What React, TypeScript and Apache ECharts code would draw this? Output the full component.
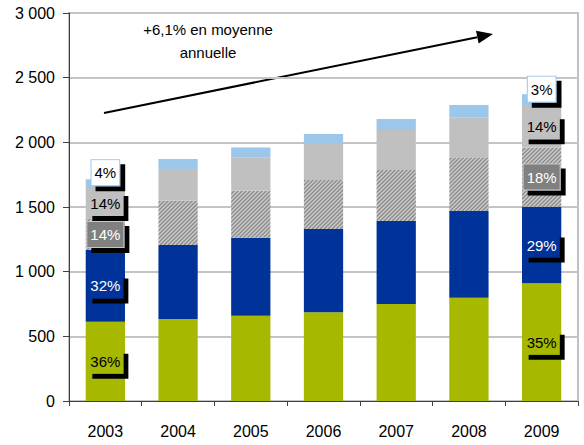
import React, { useEffect, useRef } from "react";
import * as echarts from "echarts";

const years = ["2003", "2004", "2005", "2006", "2007", "2008", "2009"];
const greenValues = [613, 634, 660, 686, 750, 799, 910];
const blueValues = [554, 572, 603, 644, 642, 670, 592];
const hatchValues = [240, 343, 363, 379, 394, 415, 459];
const lightGrayValues = [240, 245, 258, 278, 309, 310, 320];
const lightBlueValues = [67, 77, 77, 77, 85, 95, 90];

const greenPct = ["36%", "", "", "", "", "", "35%"];
const bluePct = ["32%", "", "", "", "", "", "29%"];
const hatchPct = ["14%", "", "", "", "", "", "18%"];
const lightGrayPct = ["14%", "", "", "", "", "", "14%"];
const lightBluePct = ["4%", "", "", "", "", "", "3%"];

const yTicks = { min: 0, max: 3000, interval: 500 };
const annotationLines = ["+6,1% en moyenne", "annuelle"];

const FONT = "Arial";

function makeHatch(): HTMLCanvasElement {
  const c = document.createElement("canvas");
  c.width = 4;
  c.height = 4;
  const ctx = c.getContext("2d")!;
  const tones = ["#8a8a8a", "#a6a6a6", "#cbcbcb", "#b4b4b4"];
  for (let x = 0; x < 4; x++) {
    for (let y = 0; y < 4; y++) {
      ctx.fillStyle = tones[(x + y) % 4];
      ctx.fillRect(x, y, 1, 1);
    }
  }
  return c;
}

export default function App() {
  const ref = useRef<HTMLDivElement>(null);

  useEffect(() => {
    if (!ref.current) return;
    const chart = echarts.init(ref.current, null, { renderer: "svg" });

    const labelBase = {
      position: "inside",
      fontFamily: FONT,
      fontSize: 15,
      lineHeight: 17,
      padding: [4, 3, 4, 3],
      shadowColor: "#000",
      shadowBlur: 0,
      shadowOffsetX: 5,
      shadowOffsetY: 5,
    };

    const mk = (
      name: string,
      values: number[],
      pcts: string[],
      color: any,
      label: any
    ) => ({
      name,
      type: "bar",
      stack: "total",
      barWidth: "54%",
      itemStyle: { color },
      label: { ...labelBase, ...label, formatter: (p: any) => pcts[p.dataIndex] },
      data: values.map((v, i) => ({ value: v, label: { show: pcts[i] !== "" } })),
    });

    const hatch = makeHatch();

    // arrow annotation
    const x1 = 104, y1 = 113, x2 = 493, y2 = 34;
    const ang = Math.atan2(y2 - y1, x2 - x1);
    const hl = 16, hw = 6.5;
    const bx = x2 - hl * Math.cos(ang), by = y2 - hl * Math.sin(ang);
    const px = -Math.sin(ang), py = Math.cos(ang);

    chart.setOption({
      animation: false,
      grid: {
        left: 69,
        right: 6,
        top: 13,
        bottom: 44,
        show: true,
        borderColor: "#c0c0c0",
        borderWidth: 2,
      },
      xAxis: {
        type: "category",
        data: years,
        axisLine: { lineStyle: { color: "#404040", width: 1 } },
        axisTick: { show: true, length: 5, lineStyle: { color: "#404040" } },
        axisLabel: { fontFamily: FONT, fontSize: 16, color: "#000", margin: 22 },
      },
      yAxis: {
        type: "value",
        min: yTicks.min,
        max: yTicks.max,
        interval: yTicks.interval,
        axisLine: { show: true, lineStyle: { color: "#404040", width: 1 } },
        axisTick: { show: true, length: 6, lineStyle: { color: "#404040" } },
        axisLabel: {
          fontFamily: FONT,
          fontSize: 16,
          color: "#000",
          margin: 14,
          formatter: (v: number) => String(v).replace(/\B(?=(\d{3})+(?!\d))/g, " "),
        },
        splitLine: { lineStyle: { color: "#c4c4c4", width: 2 } },
      },
      series: [
        mk("green", greenValues, greenPct, "#a6b800", {
          color: "#000",
          backgroundColor: "#a6b800",
        }),
        mk("blue", blueValues, bluePct, "#003399", {
          color: "#fff",
          backgroundColor: "#003399",
        }),
        mk("hatch", hatchValues, hatchPct, { image: hatch, repeat: "repeat" }, {
          color: "#fff",
          backgroundColor: "#808080",
          borderColor: "#c8c8c8",
          borderWidth: 1,
        }),
        mk("lightgray", lightGrayValues, lightGrayPct, "#c0c0c0", {
          color: "#000",
          backgroundColor: "#c0c0c0",
        }),
        mk("lightblue", lightBlueValues, lightBluePct, "#9cc7ea", {
          color: "#000",
          backgroundColor: "#fff",
          borderColor: "#9cc7ea",
          borderWidth: 1,
          offset: [0, -11],
        }),
      ],
      graphic: [
        {
          type: "text",
          x: 208,
          y: 17.5,
          style: {
            text: annotationLines.join("\n"),
            fontFamily: FONT,
            fontSize: 15,
            lineHeight: 23,
            fill: "#000",
            align: "center",
            verticalAlign: "top",
          },
        },
        {
          type: "line",
          shape: { x1, y1, x2: bx, y2: by },
          style: { stroke: "#000", lineWidth: 2 },
        },
        {
          type: "polygon",
          shape: {
            points: [
              [x2, y2],
              [bx + px * hw, by + py * hw],
              [bx - px * hw, by - py * hw],
            ],
          },
          style: { fill: "#000" },
        },
      ],
    });

    return () => chart.dispose();
  }, []);

  return (
    <div
      ref={ref}
      style={{ position: "absolute", left: 0, top: 0, width: 584, height: 445, background: "#fff" }}
    />
  );
}
